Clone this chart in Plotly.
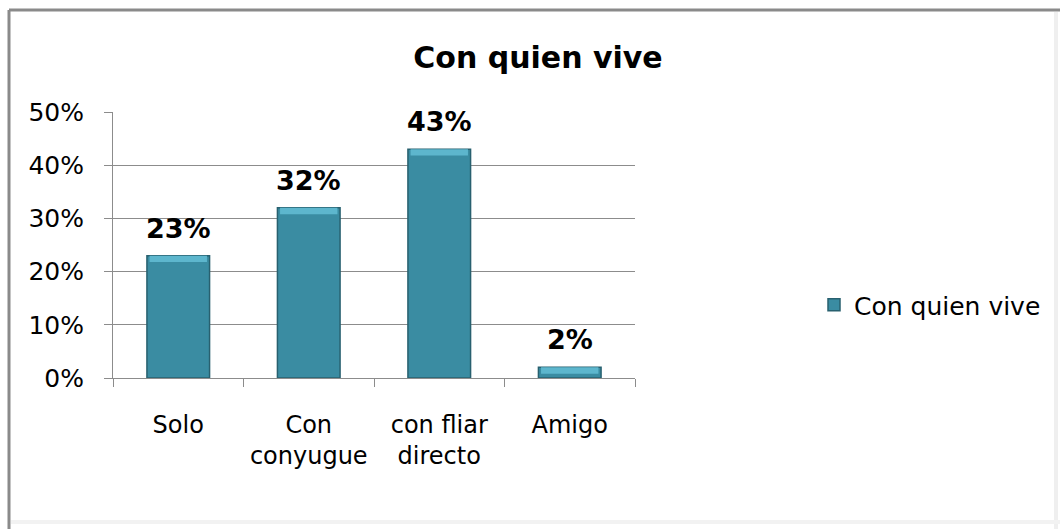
import plotly.graph_objects as go

categories = ["Solo", "Con<br>conyugue", "con fliar<br>directo", "Amigo"]
values = [0.23, 0.32, 0.43, 0.02]
labels = ["23%", "32%", "43%", "2%"]
series_name = "Con quien vive"
title_text = "Con quien vive"

W, H = 1060, 529
L, R, T, B = 113, 635, 112, 378  # plot area in pixels

def px_x(x):
    return (x - L) / (R - L)

def px_y(y):
    return (B - y) / (B - T)

FONT = "DejaVu Sans"
hl = 0.012

fig = go.Figure()
fig.add_trace(go.Bar(
    x=categories, y=values, name=series_name, width=0.48,
    marker=dict(color="#3A8CA2", line=dict(color="#28606F", width=1.5)),
))
fig.add_trace(go.Bar(
    x=categories, y=[min(hl, v * 0.8) for v in values],
    base=[v - min(hl, v * 0.8) for v in values], width=0.44,
    marker=dict(color="#5DB6CD", line=dict(width=0)), showlegend=False,
    hoverinfo="skip",
))

for c, v, t in zip(categories, values, labels):
    fig.add_annotation(x=c, y=v, text=t, showarrow=False, yanchor="bottom",
                       yshift=10, font=dict(family=FONT, size=27, color="black", weight="bold"))

# border
shapes = [
    dict(type="line", xref="paper", yref="paper", x0=px_x(9), x1=px_x(1060), y0=px_y(10), y1=px_y(10),
         line=dict(color="#8a8a8a", width=3)),
    dict(type="line", xref="paper", yref="paper", x0=px_x(9), x1=px_x(9), y0=px_y(10), y1=px_y(529),
         line=dict(color="#8a8a8a", width=3)),
    dict(type="line", xref="paper", yref="paper", x0=px_x(1056), x1=px_x(1056), y0=px_y(12), y1=px_y(529),
         line=dict(color="#efefef", width=4)),
    dict(type="line", xref="paper", yref="paper", x0=px_x(11), x1=px_x(1060), y0=px_y(522), y1=px_y(522),
         line=dict(color="#f2f2f2", width=4)),
]

fig.update_layout(
    width=W, height=H,
    margin=dict(l=L, r=W - R, t=T, b=H - B, pad=0),
    paper_bgcolor="white", plot_bgcolor="white",
    barmode="overlay",
    shapes=shapes,
    title=dict(text=title_text, x=538 / W, y=1 - 57 / H, xanchor="center", yanchor="middle",
               font=dict(family=FONT, size=30, color="black", weight="bold")),
    legend=dict(x=px_x(814), y=px_y(305), xanchor="left", yanchor="middle",
                font=dict(family=FONT, size=25, color="black"), bgcolor="rgba(0,0,0,0)"),
    showlegend=True,
    font=dict(family=FONT, color="black"),
)
fig.update_yaxes(range=[0, 0.5], dtick=0.1, tickformat=".0%", showgrid=True,
                 gridcolor="#8c8c8c", gridwidth=1, showline=True, linecolor="#8c8c8c", linewidth=1,
                 ticks="outside", ticklen=8, tickcolor="#8c8c8c", zeroline=False,
                 tickfont=dict(family=FONT, size=25, color="black"), ticklabelstandoff=15)
fig.update_xaxes(showline=True, linecolor="#8c8c8c", linewidth=1, ticks="outside", ticklen=8,
                 tickcolor="#8c8c8c", tickson="boundaries", showgrid=False, tickangle=0,
                 tickfont=dict(family=FONT, size=24, color="black"), ticklabelstandoff=25)

fig.write_html("out.html", config={"displayModeBar": False},
               post_script="document.body.style.margin='0px';")
